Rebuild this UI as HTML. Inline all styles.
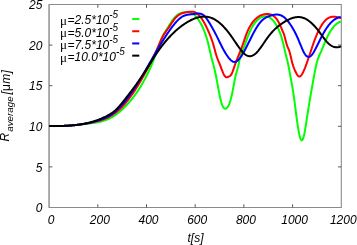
<!DOCTYPE html>
<html><head><meta charset="utf-8"><style>
html,body{margin:0;padding:0;background:#fff;}
svg{display:block;will-change:transform;}
text{font-family:"Liberation Sans", sans-serif;font-style:italic;font-size:12px;fill:#000;}
.mu{font-style:normal;}
.mus{font-style:normal;font-family:"Liberation Serif",serif;font-size:13px;}
</style></head><body>
<svg width="357" height="245" viewBox="0 0 357 245">
<rect width="357" height="245" fill="#fff"/>
<g stroke="#8a8a8a" fill="none"><path d="M49.1,4.5H341.3V207.5H49.1Z" stroke-width="1.1"/><line x1="49.0" y1="4.5" x2="49.0" y2="207.5" stroke="#9a9a9a" stroke-width="1.0"/></g>
<g stroke="#5a5a5a" stroke-width="1"><line x1="97.80" y1="207.5" x2="97.80" y2="204.2"/><line x1="97.80" y1="4.5" x2="97.80" y2="7.8"/><line x1="146.50" y1="207.5" x2="146.50" y2="204.2"/><line x1="146.50" y1="4.5" x2="146.50" y2="7.8"/><line x1="195.20" y1="207.5" x2="195.20" y2="204.2"/><line x1="195.20" y1="4.5" x2="195.20" y2="7.8"/><line x1="243.90" y1="207.5" x2="243.90" y2="204.2"/><line x1="243.90" y1="4.5" x2="243.90" y2="7.8"/><line x1="292.60" y1="207.5" x2="292.60" y2="204.2"/><line x1="292.60" y1="4.5" x2="292.60" y2="7.8"/><line x1="49.1" y1="166.90" x2="52.4" y2="166.90"/><line x1="341.3" y1="166.90" x2="338.0" y2="166.90"/><line x1="49.1" y1="126.30" x2="52.4" y2="126.30"/><line x1="341.3" y1="126.30" x2="338.0" y2="126.30"/><line x1="49.1" y1="85.70" x2="52.4" y2="85.70"/><line x1="341.3" y1="85.70" x2="338.0" y2="85.70"/><line x1="49.1" y1="45.10" x2="52.4" y2="45.10"/><line x1="341.3" y1="45.10" x2="338.0" y2="45.10"/></g>
<g fill="none" stroke-width="2.0" stroke-linejoin="round" stroke-linecap="butt">
<path d="M49.20,126.08L49.70,126.09L50.20,126.10L50.70,126.10L51.20,126.11L51.70,126.12L52.20,126.12L52.70,126.12L53.20,126.12L53.70,126.12L54.20,126.12L54.70,126.12L55.20,126.12L55.70,126.12L56.20,126.11L56.70,126.10L57.20,126.10L57.70,126.09L58.20,126.08L58.70,126.07L59.20,126.06L59.70,126.04L60.20,126.03L60.70,126.01L61.20,126.00L61.70,125.98L62.20,125.96L62.70,125.94L63.20,125.92L63.70,125.90L64.20,125.88L64.70,125.85L65.20,125.83L65.70,125.80L66.20,125.78L66.70,125.75L67.20,125.72L67.70,125.69L68.20,125.66L68.70,125.63L69.20,125.60L69.70,125.56L70.20,125.53L70.70,125.49L71.20,125.45L71.70,125.42L72.20,125.38L72.70,125.34L73.20,125.30L73.70,125.26L74.20,125.21L74.70,125.17L75.20,125.13L75.70,125.08L76.20,125.03L76.70,124.99L77.20,124.94L77.70,124.89L78.20,124.84L78.70,124.79L79.20,124.74L79.70,124.69L80.20,124.63L80.70,124.58L81.20,124.52L81.70,124.47L82.20,124.41L82.70,124.35L83.20,124.29L83.70,124.23L84.20,124.17L84.70,124.11L85.20,124.05L85.70,123.99L86.20,123.92L86.70,123.86L87.20,123.79L87.70,123.73L88.20,123.66L88.70,123.59L89.20,123.53L89.70,123.46L90.20,123.39L90.70,123.32L91.20,123.24L91.70,123.17L92.20,123.10L92.70,123.03L93.20,122.95L93.70,122.87L94.20,122.80L94.70,122.72L95.20,122.64L95.70,122.55L96.20,122.47L96.70,122.38L97.20,122.29L97.70,122.19L98.20,122.09L98.70,121.99L99.20,121.89L99.70,121.78L100.20,121.66L100.70,121.54L101.20,121.42L101.70,121.29L102.20,121.16L102.70,121.02L103.20,120.88L103.70,120.73L104.20,120.57L104.70,120.41L105.20,120.24L105.70,120.06L106.20,119.88L106.70,119.69L107.20,119.49L107.70,119.29L108.20,119.08L108.70,118.86L109.20,118.63L109.70,118.39L110.20,118.14L110.70,117.89L111.20,117.62L111.70,117.35L112.20,117.06L112.70,116.77L113.20,116.46L113.70,116.15L114.20,115.83L114.70,115.49L115.20,115.15L115.70,114.80L116.20,114.44L116.70,114.07L117.20,113.70L117.70,113.31L118.20,112.92L118.70,112.51L119.20,112.10L119.70,111.68L120.20,111.25L120.70,110.82L121.20,110.37L121.70,109.92L122.20,109.46L122.70,109.00L123.20,108.52L123.70,108.04L124.20,107.56L124.70,107.06L125.20,106.56L125.70,106.05L126.20,105.53L126.70,105.00L127.20,104.47L127.70,103.93L128.20,103.38L128.70,102.82L129.20,102.25L129.70,101.67L130.20,101.09L130.70,100.49L131.20,99.89L131.70,99.27L132.20,98.65L132.70,98.02L133.20,97.37L133.70,96.72L134.20,96.06L134.70,95.38L135.20,94.69L135.70,94.00L136.20,93.29L136.70,92.57L137.20,91.84L137.70,91.10L138.20,90.35L138.70,89.58L139.20,88.80L139.70,88.01L140.20,87.21L140.70,86.39L141.20,85.56L141.70,84.72L142.20,83.87L142.70,83.00L143.20,82.12L143.70,81.22L144.20,80.31L144.70,79.39L145.20,78.45L145.70,77.50L146.20,76.54L146.70,75.55L147.20,74.56L147.70,73.54L148.20,72.50L148.70,71.45L149.20,70.37L149.70,69.28L150.20,68.16L150.70,67.02L151.20,65.86L151.70,64.67L152.20,63.45L152.70,62.21L153.20,60.94L153.70,59.65L154.20,58.32L154.70,56.97L155.20,55.59L155.70,54.19L156.20,52.77L156.70,51.35L157.20,49.93L157.70,48.51L158.20,47.10L158.70,45.72L159.20,44.36L159.70,43.03L160.20,41.74L160.70,40.49L161.20,39.30L161.70,38.17L162.20,37.10L162.70,36.09L163.20,35.13L163.70,34.22L164.20,33.35L164.70,32.51L165.20,31.70L165.70,30.91L166.20,30.13L166.70,29.35L167.20,28.58L167.70,27.79L168.20,27.00L168.70,26.19L169.20,25.38L169.70,24.57L170.20,23.76L170.70,22.96L171.20,22.18L171.70,21.41L172.20,20.66L172.70,19.94L173.20,19.25L173.70,18.60L174.20,17.98L174.70,17.40L175.20,16.87L175.70,16.37L176.20,15.91L176.70,15.49L177.20,15.09L177.70,14.74L178.20,14.41L178.70,14.11L179.20,13.84L179.70,13.59L180.20,13.37L180.70,13.18L181.20,13.00L181.70,12.84L182.20,12.71L182.70,12.59L183.20,12.48L183.70,12.39L184.20,12.31L184.70,12.24L185.20,12.18L185.70,12.13L186.20,12.09L186.70,12.07L187.20,12.06L187.70,12.07L188.20,12.09L188.70,12.15L189.20,12.22L189.70,12.32L190.20,12.46L190.70,12.62L191.20,12.82L191.70,13.05L192.20,13.32L192.70,13.62L193.20,13.96L193.70,14.33L194.20,14.74L194.70,15.19L195.20,15.67L195.70,16.19L196.20,16.74L196.70,17.33L197.20,17.96L197.70,18.63L198.20,19.33L198.70,20.07L199.20,20.84L199.70,21.66L200.20,22.51L200.70,23.40L201.20,24.33L201.70,25.29L202.20,26.30L202.70,27.35L203.20,28.45L203.70,29.61L204.20,30.82L204.70,32.11L205.20,33.47L205.70,34.92L206.20,36.45L206.70,38.07L207.20,39.79L207.70,41.61L208.20,43.55L208.70,45.60L209.20,47.76L209.70,49.96L210.20,52.18L210.70,54.34L211.20,56.41L211.70,58.38L212.20,60.30L212.70,62.18L213.20,64.07L213.70,66.00L214.20,67.98L214.70,70.06L215.20,72.24L215.70,74.57L216.20,77.04L216.70,79.64L217.20,82.32L217.70,85.04L218.20,87.77L218.70,90.46L219.20,93.08L219.70,95.59L220.20,97.95L220.70,100.11L221.20,102.05L221.70,103.71L222.20,105.10L222.70,106.23L223.20,107.11L223.70,107.78L224.20,108.25L224.70,108.54L225.20,108.66L225.70,108.64L226.20,108.47L226.70,108.14L227.20,107.65L227.70,107.00L228.20,106.19L228.70,105.20L229.20,104.03L229.70,102.69L230.20,101.17L230.70,99.46L231.20,97.56L231.70,95.49L232.20,93.23L232.70,90.79L233.20,88.17L233.70,85.44L234.20,82.69L234.70,80.03L235.20,77.54L235.70,75.32L236.20,73.39L236.70,71.62L237.20,69.92L237.70,68.15L238.20,66.22L238.70,63.99L239.20,61.48L239.70,58.97L240.20,56.78L240.70,55.03L241.20,53.62L241.70,52.44L242.20,51.36L242.70,50.27L243.20,49.10L243.70,47.86L244.20,46.56L244.70,45.22L245.20,43.85L245.70,42.45L246.20,41.05L246.70,39.65L247.20,38.27L247.70,36.92L248.20,35.60L248.70,34.34L249.20,33.13L249.70,31.98L250.20,30.89L250.70,29.84L251.20,28.84L251.70,27.90L252.20,27.00L252.70,26.14L253.20,25.33L253.70,24.56L254.20,23.83L254.70,23.14L255.20,22.49L255.70,21.88L256.20,21.31L256.70,20.77L257.20,20.26L257.70,19.79L258.20,19.35L258.70,18.95L259.20,18.57L259.70,18.23L260.20,17.92L260.70,17.63L261.20,17.37L261.70,17.14L262.20,16.93L262.70,16.76L263.20,16.61L263.70,16.49L264.20,16.41L264.70,16.35L265.20,16.32L265.70,16.33L266.20,16.37L266.70,16.44L267.20,16.54L267.70,16.68L268.20,16.86L268.70,17.07L269.20,17.31L269.70,17.60L270.20,17.92L270.70,18.27L271.20,18.67L271.70,19.10L272.20,19.58L272.70,20.09L273.20,20.65L273.70,21.25L274.20,21.89L274.70,22.57L275.20,23.29L275.70,24.06L276.20,24.87L276.70,25.73L277.20,26.64L277.70,27.59L278.20,28.60L278.70,29.68L279.20,30.83L279.70,32.05L280.20,33.37L280.70,34.77L281.20,36.28L281.70,37.90L282.20,39.63L282.70,41.48L283.20,43.47L283.70,45.59L284.20,47.83L284.70,50.12L285.20,52.35L285.70,54.42L286.20,56.32L286.70,58.16L287.20,60.05L287.70,62.12L288.20,64.44L288.70,66.97L289.20,69.66L289.70,72.43L290.20,75.22L290.70,77.96L291.20,80.64L291.70,83.32L292.20,86.09L292.70,89.01L293.20,92.15L293.70,95.57L294.20,99.20L294.70,102.97L295.20,106.82L295.70,110.70L296.20,114.55L296.70,118.31L297.20,121.92L297.70,125.34L298.20,128.50L298.70,131.37L299.20,133.90L299.70,136.07L300.20,137.83L300.70,139.16L301.20,140.02L301.70,140.37L302.20,140.18L302.70,139.46L303.20,138.24L303.70,136.55L304.20,134.44L304.70,131.97L305.20,129.19L305.70,126.18L306.20,123.00L306.70,119.72L307.20,116.39L307.70,113.08L308.20,109.84L308.70,106.68L309.20,103.60L309.70,100.57L310.20,97.61L310.70,94.69L311.20,91.82L311.70,88.98L312.20,86.18L312.70,83.39L313.20,80.62L313.70,77.85L314.20,75.11L314.70,72.42L315.20,69.83L315.70,67.38L316.20,65.10L316.70,63.03L317.20,61.20L317.70,59.59L318.20,58.15L318.70,56.86L319.20,55.68L319.70,54.56L320.20,53.49L320.70,52.41L321.20,51.30L321.70,50.14L322.20,48.95L322.70,47.73L323.20,46.50L323.70,45.27L324.20,44.03L324.70,42.81L325.20,41.62L325.70,40.45L326.20,39.33L326.70,38.24L327.20,37.18L327.70,36.17L328.20,35.19L328.70,34.24L329.20,33.33L329.70,32.46L330.20,31.62L330.70,30.82L331.20,30.05L331.70,29.31L332.20,28.61L332.70,27.94L333.20,27.31L333.70,26.71L334.20,26.14L334.70,25.61L335.20,25.10L335.70,24.63L336.20,24.20L336.70,23.79L337.20,23.41L337.70,23.07L338.20,22.76L338.70,22.48L339.20,22.23L339.70,22.01L340.20,21.82L340.70,21.66L340.90,21.60" stroke="#00ff00"/>
<path d="M49.20,126.07L49.70,126.08L50.20,126.09L50.70,126.10L51.20,126.11L51.70,126.11L52.20,126.12L52.70,126.12L53.20,126.12L53.70,126.12L54.20,126.13L54.70,126.12L55.20,126.12L55.70,126.12L56.20,126.12L56.70,126.11L57.20,126.10L57.70,126.10L58.20,126.09L58.70,126.08L59.20,126.07L59.70,126.05L60.20,126.04L60.70,126.03L61.20,126.01L61.70,125.99L62.20,125.97L62.70,125.96L63.20,125.93L63.70,125.91L64.20,125.89L64.70,125.86L65.20,125.84L65.70,125.81L66.20,125.78L66.70,125.75L67.20,125.72L67.70,125.69L68.20,125.66L68.70,125.62L69.20,125.59L69.70,125.55L70.20,125.51L70.70,125.47L71.20,125.43L71.70,125.39L72.20,125.34L72.70,125.30L73.20,125.25L73.70,125.21L74.20,125.16L74.70,125.11L75.20,125.05L75.70,125.00L76.20,124.95L76.70,124.89L77.20,124.83L77.70,124.77L78.20,124.71L78.70,124.65L79.20,124.59L79.70,124.52L80.20,124.46L80.70,124.39L81.20,124.32L81.70,124.25L82.20,124.18L82.70,124.11L83.20,124.03L83.70,123.95L84.20,123.88L84.70,123.80L85.20,123.72L85.70,123.63L86.20,123.55L86.70,123.47L87.20,123.38L87.70,123.29L88.20,123.20L88.70,123.11L89.20,123.02L89.70,122.92L90.20,122.83L90.70,122.73L91.20,122.63L91.70,122.53L92.20,122.43L92.70,122.32L93.20,122.22L93.70,122.11L94.20,122.00L94.70,121.89L95.20,121.77L95.70,121.65L96.20,121.53L96.70,121.41L97.20,121.28L97.70,121.15L98.20,121.02L98.70,120.88L99.20,120.74L99.70,120.59L100.20,120.44L100.70,120.29L101.20,120.13L101.70,119.96L102.20,119.79L102.70,119.62L103.20,119.43L103.70,119.25L104.20,119.06L104.70,118.86L105.20,118.65L105.70,118.44L106.20,118.22L106.70,118.00L107.20,117.77L107.70,117.53L108.20,117.28L108.70,117.03L109.20,116.77L109.70,116.50L110.20,116.22L110.70,115.94L111.20,115.64L111.70,115.34L112.20,115.03L112.70,114.71L113.20,114.38L113.70,114.04L114.20,113.69L114.70,113.34L115.20,112.97L115.70,112.59L116.20,112.20L116.70,111.81L117.20,111.40L117.70,110.98L118.20,110.55L118.70,110.10L119.20,109.65L119.70,109.19L120.20,108.71L120.70,108.23L121.20,107.73L121.70,107.23L122.20,106.71L122.70,106.18L123.20,105.64L123.70,105.10L124.20,104.54L124.70,103.97L125.20,103.39L125.70,102.80L126.20,102.20L126.70,101.60L127.20,100.98L127.70,100.35L128.20,99.71L128.70,99.07L129.20,98.41L129.70,97.75L130.20,97.07L130.70,96.39L131.20,95.70L131.70,95.00L132.20,94.29L132.70,93.57L133.20,92.84L133.70,92.10L134.20,91.36L134.70,90.60L135.20,89.84L135.70,89.07L136.20,88.29L136.70,87.50L137.20,86.71L137.70,85.90L138.20,85.09L138.70,84.27L139.20,83.45L139.70,82.61L140.20,81.77L140.70,80.92L141.20,80.06L141.70,79.19L142.20,78.32L142.70,77.44L143.20,76.56L143.70,75.66L144.20,74.76L144.70,73.85L145.20,72.94L145.70,72.02L146.20,71.09L146.70,70.15L147.20,69.21L147.70,68.26L148.20,67.31L148.70,66.35L149.20,65.38L149.70,64.41L150.20,63.43L150.70,62.44L151.20,61.45L151.70,60.45L152.20,59.45L152.70,58.44L153.20,57.43L153.70,56.41L154.20,55.38L154.70,54.34L155.20,53.29L155.70,52.22L156.20,51.14L156.70,50.04L157.20,48.92L157.70,47.77L158.20,46.61L158.70,45.43L159.20,44.25L159.70,43.07L160.20,41.91L160.70,40.78L161.20,39.68L161.70,38.62L162.20,37.62L162.70,36.67L163.20,35.78L163.70,34.93L164.20,34.12L164.70,33.34L165.20,32.59L165.70,31.86L166.20,31.14L166.70,30.44L167.20,29.74L167.70,29.03L168.20,28.32L168.70,27.60L169.20,26.85L169.70,26.10L170.20,25.34L170.70,24.58L171.20,23.82L171.70,23.06L172.20,22.31L172.70,21.58L173.20,20.86L173.70,20.17L174.20,19.50L174.70,18.87L175.20,18.26L175.70,17.70L176.20,17.17L176.70,16.68L177.20,16.23L177.70,15.81L178.20,15.43L178.70,15.07L179.20,14.74L179.70,14.44L180.20,14.17L180.70,13.92L181.20,13.69L181.70,13.49L182.20,13.30L182.70,13.13L183.20,12.98L183.70,12.84L184.20,12.72L184.70,12.60L185.20,12.50L185.70,12.41L186.20,12.32L186.70,12.23L187.20,12.15L187.70,12.08L188.20,12.00L188.70,11.92L189.20,11.85L189.70,11.78L190.20,11.72L190.70,11.68L191.20,11.65L191.70,11.64L192.20,11.65L192.70,11.69L193.20,11.75L193.70,11.85L194.20,11.98L194.70,12.15L195.20,12.35L195.70,12.60L196.20,12.89L196.70,13.22L197.20,13.60L197.70,14.01L198.20,14.46L198.70,14.94L199.20,15.47L199.70,16.04L200.20,16.64L200.70,17.27L201.20,17.95L201.70,18.66L202.20,19.40L202.70,20.18L203.20,20.99L203.70,21.83L204.20,22.71L204.70,23.62L205.20,24.56L205.70,25.54L206.20,26.54L206.70,27.57L207.20,28.64L207.70,29.73L208.20,30.85L208.70,32.00L209.20,33.17L209.70,34.37L210.20,35.60L210.70,36.87L211.20,38.18L211.70,39.55L212.20,40.99L212.70,42.51L213.20,44.13L213.70,45.85L214.20,47.66L214.70,49.52L215.20,51.37L215.70,53.18L216.20,54.88L216.70,56.44L217.20,57.89L217.70,59.23L218.20,60.50L218.70,61.73L219.20,62.95L219.70,64.17L220.20,65.43L220.70,66.73L221.20,68.06L221.70,69.39L222.20,70.70L222.70,71.96L223.20,73.14L223.70,74.22L224.20,75.17L224.70,75.97L225.20,76.59L225.70,77.01L226.20,77.22L226.70,77.27L227.20,77.19L227.70,77.01L228.20,76.78L228.70,76.53L229.20,76.30L229.70,76.07L230.20,75.78L230.70,75.35L231.20,74.70L231.70,73.81L232.20,72.72L232.70,71.46L233.20,70.07L233.70,68.61L234.20,67.11L234.70,65.61L235.20,64.14L235.70,62.74L236.20,61.38L236.70,60.06L237.20,58.77L237.70,57.51L238.20,56.26L238.70,55.03L239.20,53.81L239.70,52.58L240.20,51.34L240.70,50.09L241.20,48.81L241.70,47.50L242.20,46.15L242.70,44.76L243.20,43.32L243.70,41.85L244.20,40.36L244.70,38.88L245.20,37.42L245.70,36.00L246.20,34.64L246.70,33.35L247.20,32.12L247.70,30.96L248.20,29.85L248.70,28.80L249.20,27.81L249.70,26.87L250.20,25.98L250.70,25.14L251.20,24.34L251.70,23.59L252.20,22.89L252.70,22.22L253.20,21.58L253.70,20.99L254.20,20.42L254.70,19.89L255.20,19.38L255.70,18.90L256.20,18.45L256.70,18.02L257.20,17.62L257.70,17.24L258.20,16.88L258.70,16.55L259.20,16.24L259.70,15.96L260.20,15.69L260.70,15.45L261.20,15.23L261.70,15.02L262.20,14.84L262.70,14.68L263.20,14.54L263.70,14.41L264.20,14.31L264.70,14.22L265.20,14.14L265.70,14.09L266.20,14.05L266.70,14.02L267.20,14.01L267.70,14.02L268.20,14.04L268.70,14.08L269.20,14.14L269.70,14.23L270.20,14.35L270.70,14.49L271.20,14.66L271.70,14.87L272.20,15.11L272.70,15.38L273.20,15.70L273.70,16.05L274.20,16.45L274.70,16.90L275.20,17.39L275.70,17.93L276.20,18.52L276.70,19.17L277.20,19.87L277.70,20.63L278.20,21.46L278.70,22.34L279.20,23.29L279.70,24.30L280.20,25.38L280.70,26.54L281.20,27.73L281.70,28.95L282.20,30.15L282.70,31.31L283.20,32.46L283.70,33.69L284.20,35.10L284.70,36.78L285.20,38.66L285.70,40.64L286.20,42.59L286.70,44.40L287.20,45.95L287.70,47.20L288.20,48.29L288.70,49.40L289.20,50.69L289.70,52.32L290.20,54.24L290.70,56.35L291.20,58.52L291.70,60.66L292.20,62.64L292.70,64.41L293.20,65.99L293.70,67.41L294.20,68.69L294.70,69.87L295.20,70.96L295.70,72.00L296.20,72.99L296.70,73.91L297.20,74.74L297.70,75.45L298.20,76.00L298.70,76.39L299.20,76.57L299.70,76.54L300.20,76.33L300.70,75.95L301.20,75.41L301.70,74.73L302.20,73.93L302.70,73.02L303.20,72.02L303.70,70.94L304.20,69.80L304.70,68.61L305.20,67.36L305.70,66.06L306.20,64.72L306.70,63.34L307.20,61.93L307.70,60.49L308.20,59.02L308.70,57.54L309.20,56.03L309.70,54.52L310.20,53.01L310.70,51.49L311.20,49.98L311.70,48.47L312.20,46.98L312.70,45.51L313.20,44.06L313.70,42.63L314.20,41.24L314.70,39.89L315.20,38.57L315.70,37.30L316.20,36.06L316.70,34.87L317.20,33.71L317.70,32.60L318.20,31.52L318.70,30.49L319.20,29.49L319.70,28.53L320.20,27.61L320.70,26.73L321.20,25.89L321.70,25.09L322.20,24.33L322.70,23.60L323.20,22.91L323.70,22.26L324.20,21.65L324.70,21.08L325.20,20.54L325.70,20.04L326.20,19.58L326.70,19.15L327.20,18.76L327.70,18.41L328.20,18.10L328.70,17.82L329.20,17.58L329.70,17.37L330.20,17.19L330.70,17.04L331.20,16.92L331.70,16.82L332.20,16.75L332.70,16.71L333.20,16.69L333.70,16.69L334.20,16.70L334.70,16.74L335.20,16.80L335.70,16.86L336.20,16.95L336.70,17.04L337.20,17.15L337.70,17.26L338.20,17.38L338.70,17.51L339.20,17.64L339.70,17.78L340.20,17.91L340.70,18.05L341.10,18.16" stroke="#ff0000"/>
<path d="M49.20,126.10L49.70,126.10L50.20,126.10L50.70,126.10L51.20,126.10L51.70,126.10L52.20,126.10L52.70,126.10L53.20,126.09L53.70,126.09L54.20,126.09L54.70,126.08L55.20,126.08L55.70,126.07L56.20,126.07L56.70,126.06L57.20,126.05L57.70,126.04L58.20,126.03L58.70,126.02L59.20,126.01L59.70,126.00L60.20,125.99L60.70,125.98L61.20,125.96L61.70,125.95L62.20,125.93L62.70,125.91L63.20,125.89L63.70,125.88L64.20,125.86L64.70,125.83L65.20,125.81L65.70,125.79L66.20,125.76L66.70,125.74L67.20,125.71L67.70,125.68L68.20,125.65L68.70,125.62L69.20,125.59L69.70,125.55L70.20,125.52L70.70,125.48L71.20,125.44L71.70,125.40L72.20,125.36L72.70,125.32L73.20,125.27L73.70,125.23L74.20,125.18L74.70,125.13L75.20,125.08L75.70,125.03L76.20,124.97L76.70,124.92L77.20,124.86L77.70,124.80L78.20,124.74L78.70,124.68L79.20,124.61L79.70,124.54L80.20,124.48L80.70,124.41L81.20,124.33L81.70,124.26L82.20,124.18L82.70,124.10L83.20,124.02L83.70,123.94L84.20,123.86L84.70,123.77L85.20,123.68L85.70,123.59L86.20,123.50L86.70,123.40L87.20,123.30L87.70,123.20L88.20,123.10L88.70,122.99L89.20,122.89L89.70,122.78L90.20,122.66L90.70,122.55L91.20,122.43L91.70,122.31L92.20,122.19L92.70,122.06L93.20,121.94L93.70,121.80L94.20,121.67L94.70,121.53L95.20,121.40L95.70,121.25L96.20,121.11L96.70,120.96L97.20,120.81L97.70,120.66L98.20,120.50L98.70,120.34L99.20,120.18L99.70,120.01L100.20,119.84L100.70,119.67L101.20,119.49L101.70,119.31L102.20,119.13L102.70,118.94L103.20,118.75L103.70,118.55L104.20,118.34L104.70,118.13L105.20,117.91L105.70,117.68L106.20,117.45L106.70,117.21L107.20,116.96L107.70,116.70L108.20,116.44L108.70,116.16L109.20,115.88L109.70,115.59L110.20,115.28L110.70,114.97L111.20,114.64L111.70,114.30L112.20,113.95L112.70,113.59L113.20,113.22L113.70,112.83L114.20,112.44L114.70,112.03L115.20,111.61L115.70,111.18L116.20,110.74L116.70,110.29L117.20,109.83L117.70,109.35L118.20,108.87L118.70,108.37L119.20,107.87L119.70,107.36L120.20,106.83L120.70,106.30L121.20,105.75L121.70,105.20L122.20,104.64L122.70,104.07L123.20,103.48L123.70,102.89L124.20,102.29L124.70,101.69L125.20,101.07L125.70,100.44L126.20,99.81L126.70,99.17L127.20,98.52L127.70,97.86L128.20,97.19L128.70,96.52L129.20,95.84L129.70,95.15L130.20,94.45L130.70,93.75L131.20,93.04L131.70,92.32L132.20,91.60L132.70,90.86L133.20,90.13L133.70,89.38L134.20,88.63L134.70,87.87L135.20,87.11L135.70,86.34L136.20,85.56L136.70,84.78L137.20,84.00L137.70,83.20L138.20,82.41L138.70,81.60L139.20,80.80L139.70,79.98L140.20,79.17L140.70,78.35L141.20,77.52L141.70,76.69L142.20,75.85L142.70,75.01L143.20,74.17L143.70,73.32L144.20,72.48L144.70,71.62L145.20,70.77L145.70,69.91L146.20,69.05L146.70,68.19L147.20,67.32L147.70,66.46L148.20,65.59L148.70,64.73L149.20,63.86L149.70,62.99L150.20,62.12L150.70,61.25L151.20,60.38L151.70,59.51L152.20,58.64L152.70,57.77L153.20,56.90L153.70,56.04L154.20,55.17L154.70,54.31L155.20,53.45L155.70,52.59L156.20,51.73L156.70,50.88L157.20,50.03L157.70,49.18L158.20,48.33L158.70,47.49L159.20,46.65L159.70,45.82L160.20,44.99L160.70,44.17L161.20,43.35L161.70,42.53L162.20,41.72L162.70,40.91L163.20,40.11L163.70,39.32L164.20,38.53L164.70,37.74L165.20,36.97L165.70,36.20L166.20,35.43L166.70,34.68L167.20,33.92L167.70,33.18L168.20,32.45L168.70,31.72L169.20,31.00L169.70,30.29L170.20,29.58L170.70,28.89L171.20,28.20L171.70,27.52L172.20,26.85L172.70,26.19L173.20,25.55L173.70,24.91L174.20,24.29L174.70,23.68L175.20,23.08L175.70,22.50L176.20,21.94L176.70,21.39L177.20,20.86L177.70,20.35L178.20,19.85L178.70,19.38L179.20,18.93L179.70,18.50L180.20,18.10L180.70,17.71L181.20,17.35L181.70,17.02L182.20,16.71L182.70,16.43L183.20,16.18L183.70,15.94L184.20,15.73L184.70,15.54L185.20,15.37L185.70,15.21L186.20,15.08L186.70,14.95L187.20,14.84L187.70,14.75L188.20,14.66L188.70,14.59L189.20,14.52L189.70,14.46L190.20,14.40L190.70,14.35L191.20,14.30L191.70,14.25L192.20,14.20L192.70,14.15L193.20,14.09L193.70,14.04L194.20,13.97L194.70,13.90L195.20,13.83L195.70,13.76L196.20,13.70L196.70,13.64L197.20,13.59L197.70,13.56L198.20,13.54L198.70,13.55L199.20,13.57L199.70,13.63L200.20,13.71L200.70,13.82L201.20,13.97L201.70,14.16L202.20,14.40L202.70,14.67L203.20,15.00L203.70,15.38L204.20,15.81L204.70,16.30L205.20,16.84L205.70,17.43L206.20,18.06L206.70,18.73L207.20,19.44L207.70,20.18L208.20,20.95L208.70,21.74L209.20,22.55L209.70,23.38L210.20,24.23L210.70,25.08L211.20,25.94L211.70,26.81L212.20,27.69L212.70,28.58L213.20,29.47L213.70,30.38L214.20,31.30L214.70,32.23L215.20,33.18L215.70,34.14L216.20,35.11L216.70,36.10L217.20,37.10L217.70,38.12L218.20,39.14L218.70,40.17L219.20,41.20L219.70,42.22L220.20,43.25L220.70,44.27L221.20,45.27L221.70,46.27L222.20,47.24L222.70,48.20L223.20,49.14L223.70,50.05L224.20,50.94L224.70,51.80L225.20,52.63L225.70,53.44L226.20,54.23L226.70,54.99L227.20,55.74L227.70,56.46L228.20,57.15L228.70,57.80L229.20,58.43L229.70,59.01L230.20,59.56L230.70,60.05L231.20,60.50L231.70,60.89L232.20,61.23L232.70,61.50L233.20,61.72L233.70,61.86L234.20,61.93L234.70,61.93L235.20,61.85L235.70,61.71L236.20,61.50L236.70,61.22L237.20,60.88L237.70,60.49L238.20,60.04L238.70,59.54L239.20,58.99L239.70,58.39L240.20,57.75L240.70,57.07L241.20,56.35L241.70,55.60L242.20,54.81L242.70,53.99L243.20,53.14L243.70,52.27L244.20,51.37L244.70,50.44L245.20,49.50L245.70,48.54L246.20,47.56L246.70,46.57L247.20,45.57L247.70,44.56L248.20,43.55L248.70,42.53L249.20,41.51L249.70,40.49L250.20,39.47L250.70,38.45L251.20,37.45L251.70,36.45L252.20,35.47L252.70,34.50L253.20,33.54L253.70,32.61L254.20,31.69L254.70,30.79L255.20,29.91L255.70,29.05L256.20,28.21L256.70,27.40L257.20,26.61L257.70,25.84L258.20,25.11L258.70,24.40L259.20,23.71L259.70,23.06L260.20,22.44L260.70,21.85L261.20,21.29L261.70,20.76L262.20,20.27L262.70,19.82L263.20,19.39L263.70,18.99L264.20,18.63L264.70,18.29L265.20,17.97L265.70,17.68L266.20,17.40L266.70,17.15L267.20,16.92L267.70,16.70L268.20,16.49L268.70,16.30L269.20,16.12L269.70,15.94L270.20,15.78L270.70,15.62L271.20,15.46L271.70,15.32L272.20,15.19L272.70,15.06L273.20,14.95L273.70,14.85L274.20,14.76L274.70,14.69L275.20,14.63L275.70,14.59L276.20,14.56L276.70,14.56L277.20,14.57L277.70,14.61L278.20,14.66L278.70,14.74L279.20,14.84L279.70,14.96L280.20,15.11L280.70,15.29L281.20,15.49L281.70,15.72L282.20,15.98L282.70,16.27L283.20,16.59L283.70,16.94L284.20,17.33L284.70,17.75L285.20,18.20L285.70,18.68L286.20,19.20L286.70,19.74L287.20,20.31L287.70,20.91L288.20,21.53L288.70,22.18L289.20,22.86L289.70,23.55L290.20,24.27L290.70,25.02L291.20,25.78L291.70,26.56L292.20,27.37L292.70,28.21L293.20,29.07L293.70,29.95L294.20,30.86L294.70,31.80L295.20,32.76L295.70,33.75L296.20,34.78L296.70,35.83L297.20,36.91L297.70,38.02L298.20,39.17L298.70,40.34L299.20,41.55L299.70,42.77L300.20,44.01L300.70,45.24L301.20,46.47L301.70,47.67L302.20,48.83L302.70,49.96L303.20,51.03L303.70,52.03L304.20,52.96L304.70,53.80L305.20,54.54L305.70,55.19L306.20,55.72L306.70,56.16L307.20,56.50L307.70,56.73L308.20,56.87L308.70,56.91L309.20,56.84L309.70,56.68L310.20,56.43L310.70,56.07L311.20,55.62L311.70,55.08L312.20,54.46L312.70,53.75L313.20,52.99L313.70,52.16L314.20,51.29L314.70,50.37L315.20,49.42L315.70,48.45L316.20,47.46L316.70,46.46L317.20,45.46L317.70,44.45L318.20,43.45L318.70,42.44L319.20,41.44L319.70,40.44L320.20,39.45L320.70,38.47L321.20,37.50L321.70,36.53L322.20,35.59L322.70,34.66L323.20,33.74L323.70,32.85L324.20,31.97L324.70,31.12L325.20,30.29L325.70,29.49L326.20,28.71L326.70,27.97L327.20,27.24L327.70,26.55L328.20,25.88L328.70,25.24L329.20,24.62L329.70,24.02L330.20,23.45L330.70,22.91L331.20,22.39L331.70,21.90L332.20,21.43L332.70,20.98L333.20,20.56L333.70,20.16L334.20,19.78L334.70,19.43L335.20,19.10L335.70,18.79L336.20,18.50L336.70,18.24L337.20,18.00L337.70,17.78L338.20,17.58L338.70,17.40L339.20,17.24L339.70,17.11L340.20,16.99L340.70,16.90" stroke="#0000ff"/>
<path d="M49.20,126.11L49.70,126.11L50.20,126.10L50.70,126.10L51.20,126.10L51.70,126.09L52.20,126.09L52.70,126.09L53.20,126.08L53.70,126.08L54.20,126.08L54.70,126.07L55.20,126.07L55.70,126.06L56.20,126.05L56.70,126.05L57.20,126.04L57.70,126.03L58.20,126.02L58.70,126.01L59.20,126.00L59.70,125.99L60.20,125.98L60.70,125.97L61.20,125.96L61.70,125.94L62.20,125.93L62.70,125.91L63.20,125.90L63.70,125.88L64.20,125.86L64.70,125.84L65.20,125.82L65.70,125.79L66.20,125.77L66.70,125.75L67.20,125.72L67.70,125.69L68.20,125.66L68.70,125.63L69.20,125.60L69.70,125.56L70.20,125.53L70.70,125.49L71.20,125.45L71.70,125.41L72.20,125.37L72.70,125.33L73.20,125.28L73.70,125.23L74.20,125.18L74.70,125.13L75.20,125.08L75.70,125.02L76.20,124.97L76.70,124.91L77.20,124.85L77.70,124.78L78.20,124.72L78.70,124.65L79.20,124.58L79.70,124.50L80.20,124.43L80.70,124.35L81.20,124.27L81.70,124.19L82.20,124.10L82.70,124.02L83.20,123.93L83.70,123.83L84.20,123.74L84.70,123.64L85.20,123.54L85.70,123.43L86.20,123.33L86.70,123.22L87.20,123.11L87.70,122.99L88.20,122.87L88.70,122.75L89.20,122.63L89.70,122.50L90.20,122.37L90.70,122.23L91.20,122.10L91.70,121.96L92.20,121.81L92.70,121.66L93.20,121.51L93.70,121.36L94.20,121.20L94.70,121.04L95.20,120.88L95.70,120.71L96.20,120.54L96.70,120.36L97.20,120.18L97.70,120.00L98.20,119.81L98.70,119.62L99.20,119.43L99.70,119.23L100.20,119.03L100.70,118.82L101.20,118.61L101.70,118.40L102.20,118.18L102.70,117.96L103.20,117.73L103.70,117.50L104.20,117.27L104.70,117.03L105.20,116.79L105.70,116.54L106.20,116.29L106.70,116.03L107.20,115.77L107.70,115.50L108.20,115.23L108.70,114.94L109.20,114.66L109.70,114.36L110.20,114.05L110.70,113.74L111.20,113.41L111.70,113.08L112.20,112.73L112.70,112.38L113.20,112.01L113.70,111.62L114.20,111.23L114.70,110.82L115.20,110.40L115.70,109.96L116.20,109.50L116.70,109.03L117.20,108.55L117.70,108.04L118.20,107.52L118.70,106.98L119.20,106.42L119.70,105.85L120.20,105.27L120.70,104.67L121.20,104.07L121.70,103.45L122.20,102.83L122.70,102.20L123.20,101.57L123.70,100.93L124.20,100.29L124.70,99.65L125.20,99.01L125.70,98.37L126.20,97.73L126.70,97.09L127.20,96.45L127.70,95.81L128.20,95.16L128.70,94.51L129.20,93.87L129.70,93.22L130.20,92.56L130.70,91.91L131.20,91.25L131.70,90.60L132.20,89.93L132.70,89.27L133.20,88.60L133.70,87.93L134.20,87.26L134.70,86.58L135.20,85.90L135.70,85.22L136.20,84.53L136.70,83.84L137.20,83.15L137.70,82.45L138.20,81.75L138.70,81.04L139.20,80.33L139.70,79.61L140.20,78.89L140.70,78.17L141.20,77.44L141.70,76.70L142.20,75.97L142.70,75.22L143.20,74.47L143.70,73.72L144.20,72.96L144.70,72.19L145.20,71.42L145.70,70.65L146.20,69.86L146.70,69.08L147.20,68.28L147.70,67.48L148.20,66.68L148.70,65.87L149.20,65.05L149.70,64.24L150.20,63.42L150.70,62.61L151.20,61.79L151.70,60.98L152.20,60.17L152.70,59.36L153.20,58.57L153.70,57.78L154.20,57.00L154.70,56.22L155.20,55.46L155.70,54.70L156.20,53.95L156.70,53.21L157.20,52.48L157.70,51.76L158.20,51.04L158.70,50.33L159.20,49.63L159.70,48.94L160.20,48.26L160.70,47.58L161.20,46.91L161.70,46.25L162.20,45.60L162.70,44.96L163.20,44.32L163.70,43.69L164.20,43.07L164.70,42.46L165.20,41.85L165.70,41.25L166.20,40.66L166.70,40.08L167.20,39.50L167.70,38.94L168.20,38.38L168.70,37.82L169.20,37.28L169.70,36.74L170.20,36.21L170.70,35.68L171.20,35.16L171.70,34.66L172.20,34.15L172.70,33.66L173.20,33.17L173.70,32.69L174.20,32.21L174.70,31.74L175.20,31.28L175.70,30.83L176.20,30.38L176.70,29.94L177.20,29.51L177.70,29.08L178.20,28.66L178.70,28.25L179.20,27.84L179.70,27.44L180.20,27.05L180.70,26.66L181.20,26.28L181.70,25.91L182.20,25.54L182.70,25.18L183.20,24.82L183.70,24.47L184.20,24.13L184.70,23.79L185.20,23.46L185.70,23.14L186.20,22.82L186.70,22.51L187.20,22.20L187.70,21.91L188.20,21.61L188.70,21.33L189.20,21.05L189.70,20.78L190.20,20.51L190.70,20.26L191.20,20.01L191.70,19.76L192.20,19.53L192.70,19.30L193.20,19.08L193.70,18.87L194.20,18.67L194.70,18.48L195.20,18.29L195.70,18.12L196.20,17.95L196.70,17.79L197.20,17.64L197.70,17.50L198.20,17.37L198.70,17.25L199.20,17.14L199.70,17.04L200.20,16.95L200.70,16.87L201.20,16.80L201.70,16.74L202.20,16.69L202.70,16.66L203.20,16.63L203.70,16.61L204.20,16.61L204.70,16.62L205.20,16.63L205.70,16.67L206.20,16.71L206.70,16.76L207.20,16.83L207.70,16.91L208.20,17.01L208.70,17.11L209.20,17.23L209.70,17.37L210.20,17.51L210.70,17.67L211.20,17.85L211.70,18.04L212.20,18.24L212.70,18.46L213.20,18.69L213.70,18.94L214.20,19.20L214.70,19.47L215.20,19.76L215.70,20.07L216.20,20.39L216.70,20.72L217.20,21.07L217.70,21.43L218.20,21.80L218.70,22.19L219.20,22.60L219.70,23.01L220.20,23.44L220.70,23.88L221.20,24.34L221.70,24.81L222.20,25.29L222.70,25.79L223.20,26.30L223.70,26.82L224.20,27.35L224.70,27.90L225.20,28.46L225.70,29.03L226.20,29.62L226.70,30.21L227.20,30.82L227.70,31.44L228.20,32.07L228.70,32.72L229.20,33.38L229.70,34.04L230.20,34.72L230.70,35.42L231.20,36.12L231.70,36.83L232.20,37.55L232.70,38.27L233.20,39.00L233.70,39.73L234.20,40.47L234.70,41.20L235.20,41.94L235.70,42.68L236.20,43.41L236.70,44.14L237.20,44.86L237.70,45.58L238.20,46.28L238.70,46.98L239.20,47.67L239.70,48.35L240.20,49.01L240.70,49.66L241.20,50.29L241.70,50.90L242.20,51.49L242.70,52.06L243.20,52.60L243.70,53.11L244.20,53.58L244.70,54.03L245.20,54.44L245.70,54.81L246.20,55.13L246.70,55.42L247.20,55.66L247.70,55.85L248.20,56.00L248.70,56.11L249.20,56.17L249.70,56.19L250.20,56.18L250.70,56.11L251.20,56.01L251.70,55.87L252.20,55.70L252.70,55.48L253.20,55.23L253.70,54.94L254.20,54.61L254.70,54.25L255.20,53.86L255.70,53.43L256.20,52.97L256.70,52.48L257.20,51.95L257.70,51.40L258.20,50.82L258.70,50.21L259.20,49.58L259.70,48.93L260.20,48.26L260.70,47.58L261.20,46.88L261.70,46.17L262.20,45.45L262.70,44.72L263.20,43.98L263.70,43.25L264.20,42.51L264.70,41.77L265.20,41.03L265.70,40.30L266.20,39.58L266.70,38.86L267.20,38.16L267.70,37.47L268.20,36.80L268.70,36.14L269.20,35.50L269.70,34.87L270.20,34.26L270.70,33.66L271.20,33.08L271.70,32.51L272.20,31.96L272.70,31.42L273.20,30.89L273.70,30.37L274.20,29.87L274.70,29.38L275.20,28.90L275.70,28.43L276.20,27.98L276.70,27.53L277.20,27.10L277.70,26.68L278.20,26.27L278.70,25.86L279.20,25.47L279.70,25.09L280.20,24.72L280.70,24.35L281.20,24.00L281.70,23.65L282.20,23.31L282.70,22.98L283.20,22.65L283.70,22.34L284.20,22.03L284.70,21.73L285.20,21.43L285.70,21.14L286.20,20.86L286.70,20.58L287.20,20.31L287.70,20.05L288.20,19.80L288.70,19.56L289.20,19.33L289.70,19.10L290.20,18.89L290.70,18.68L291.20,18.49L291.70,18.30L292.20,18.13L292.70,17.97L293.20,17.82L293.70,17.68L294.20,17.56L294.70,17.45L295.20,17.35L295.70,17.26L296.20,17.19L296.70,17.14L297.20,17.09L297.70,17.07L298.20,17.06L298.70,17.06L299.20,17.08L299.70,17.12L300.20,17.17L300.70,17.24L301.20,17.33L301.70,17.43L302.20,17.55L302.70,17.70L303.20,17.86L303.70,18.04L304.20,18.23L304.70,18.45L305.20,18.68L305.70,18.93L306.20,19.20L306.70,19.49L307.20,19.79L307.70,20.11L308.20,20.45L308.70,20.80L309.20,21.18L309.70,21.56L310.20,21.97L310.70,22.39L311.20,22.82L311.70,23.27L312.20,23.74L312.70,24.22L313.20,24.71L313.70,25.23L314.20,25.75L314.70,26.29L315.20,26.85L315.70,27.42L316.20,28.00L316.70,28.60L317.20,29.21L317.70,29.83L318.20,30.47L318.70,31.12L319.20,31.78L319.70,32.45L320.20,33.13L320.70,33.82L321.20,34.51L321.70,35.20L322.20,35.88L322.70,36.57L323.20,37.25L323.70,37.92L324.20,38.58L324.70,39.23L325.20,39.86L325.70,40.48L326.20,41.07L326.70,41.65L327.20,42.20L327.70,42.72L328.20,43.22L328.70,43.68L329.20,44.12L329.70,44.53L330.20,44.91L330.70,45.27L331.20,45.59L331.70,45.89L332.20,46.16L332.70,46.40L333.20,46.62L333.70,46.81L334.20,46.96L334.70,47.10L335.20,47.20L335.70,47.27L336.20,47.32L336.70,47.34L337.20,47.33L337.70,47.29L338.20,47.23L338.70,47.13L339.20,47.01L339.70,46.86L340.20,46.68L340.70,46.47L341.10,46.28" stroke="#000000"/>
</g>
<text x="42.4" y="212.20" text-anchor="end">0</text><text x="42.4" y="171.60" text-anchor="end">5</text><text x="42.4" y="131.00" text-anchor="end">10</text><text x="42.4" y="90.40" text-anchor="end">15</text><text x="42.4" y="49.80" text-anchor="end">20</text><text x="42.4" y="9.20" text-anchor="end">25</text><text x="51.10" y="224.0" text-anchor="middle">0</text><text x="99.80" y="224.0" text-anchor="middle">200</text><text x="148.50" y="224.0" text-anchor="middle">400</text><text x="197.20" y="224.0" text-anchor="middle">600</text><text x="245.90" y="224.0" text-anchor="middle">800</text><text x="294.60" y="224.0" text-anchor="middle">1000</text><text x="343.30" y="224.0" text-anchor="middle">1200</text>
<text x="60" y="24.20"><tspan class="mus" dy="0.5">μ</tspan><tspan dx="0.55" dy="-0.5">=2.5*10</tspan><tspan dy="-6" font-size="10">-5</tspan></text><line x1="132.2" y1="19.05" x2="139.3" y2="19.05" stroke="#00ff00" stroke-width="2"/><text x="60" y="36.50"><tspan class="mus" dy="0.5">μ</tspan><tspan dx="0.55" dy="-0.5">=5.0*10</tspan><tspan dy="-6" font-size="10">-5</tspan></text><line x1="132.2" y1="31.25" x2="139.3" y2="31.25" stroke="#ff0000" stroke-width="2"/><text x="60" y="48.80"><tspan class="mus" dy="0.5">μ</tspan><tspan dx="0.55" dy="-0.5">=7.5*10</tspan><tspan dy="-6" font-size="10">-5</tspan></text><line x1="132.2" y1="43.45" x2="139.3" y2="43.45" stroke="#0000ff" stroke-width="2"/><text x="60" y="61.10"><tspan class="mus" dy="0.5">μ</tspan><tspan dx="0.55" dy="-0.5">=10.0*10</tspan><tspan dy="-6" font-size="10">-5</tspan></text><line x1="132.2" y1="55.65" x2="139.3" y2="55.65" stroke="#000000" stroke-width="2"/>
<text x="195.5" y="242" text-anchor="middle">t[s]</text>
<g transform="rotate(-90)"><text x="-141.6" y="9.3">R</text><text x="-131.8" y="12.5" style="font-size:9.8px">average</text><text x="-94.6" y="9.5" letter-spacing="0.3">[<tspan class="mu">μ</tspan>m]</text></g>
</svg>
</body></html>
